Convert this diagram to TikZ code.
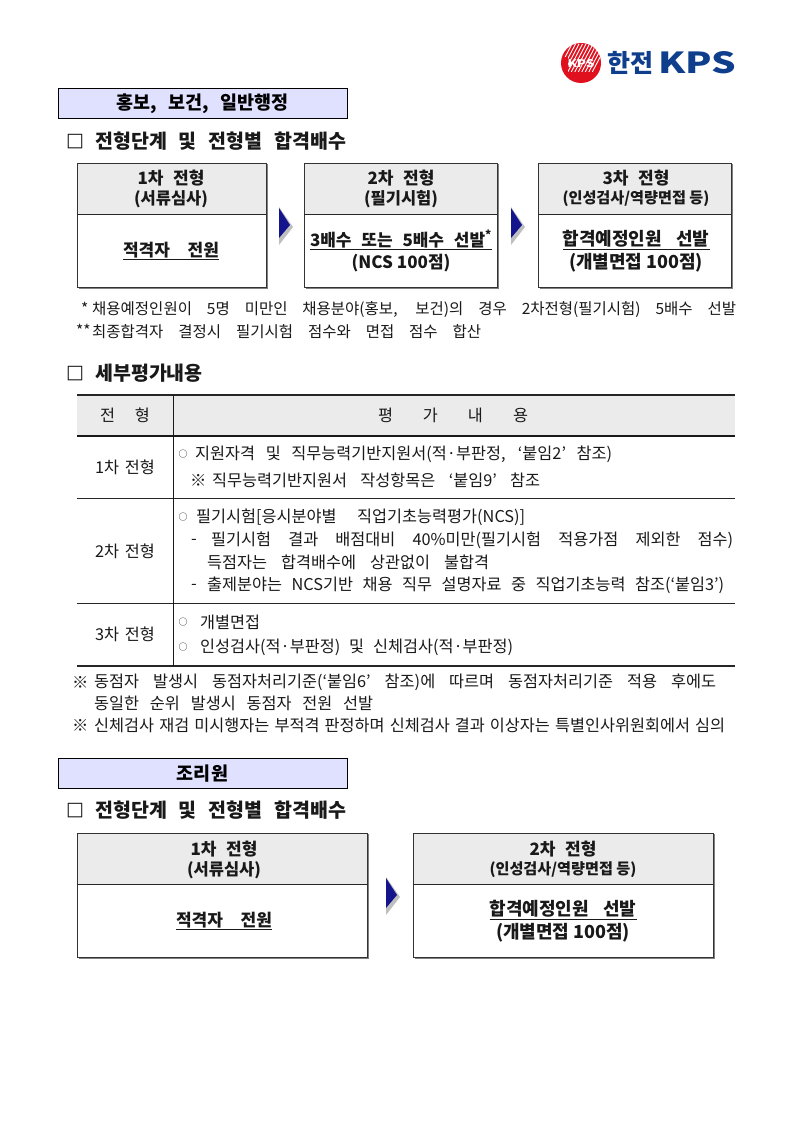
\documentclass[tikz,border=0pt]{standalone}
\usepackage{fontspec}
\usepackage{graphicx}
\setmainfont{Noto Sans CJK KR}
\newfontfamily\boxfont{DejaVu Sans}
\newcommand{\fx}[2]{\makebox[#1][s]{#2}}
\definecolor{logoblue}{HTML}{0F3F8C}
\definecolor{logored}{HTML}{E0101E}
\definecolor{navy}{HTML}{14148C}
\tikzset{x=1pt,y=-1pt,
 tx/.style={inner sep=0pt,anchor=west,font=\fontsize{16.3}{18}\selectfont,text=black!90},
 tn/.style={tx,font=\fontsize{15.5}{18}\selectfont},
 tm/.style={inner sep=0pt,anchor=center,font=\fontsize{9}{9}\selectfont,text=black!90},
 th/.style={inner sep=0pt,anchor=west,font=\fontsize{19.5}{22}\selectfont\bfseries,text=black!90},
 tq/.style={inner sep=0pt,anchor=west,font=\fontsize{19}{22}\selectfont\boxfont\bfseries,text=black!90},
 tc/.style={inner sep=0pt,anchor=center,font=\fontsize{17}{20}\selectfont\bfseries,text=black!90},
 tl/.style={tc,font=\fontsize{18}{20}\selectfont\bfseries},
 ts/.style={tc,font=\fontsize{16.5}{18}\selectfont\bfseries},
 tt/.style={inner sep=0pt,anchor=center,font=\fontsize{16.3}{18}\selectfont,text=black!90},
 banner/.style={draw=black,line width=1pt,fill=blue!12!white,inner sep=0pt,minimum width=289pt,minimum height=30pt,font=\fontsize{18.5}{20}\selectfont\bfseries},
 arrowtip/.style={fill=navy,draw=none},
 arrowsh/.style={fill=black!25,draw=none}}
\newcommand{\stepbox}[6]{% name,x0,x1,y0,ysplit,y1
 \fill[black!50] (#2+2,#4+1) rectangle (#3+2,#6+2);
 \fill[black!8] (#2,#4) rectangle (#3,#5);
 \fill[white] (#2,#5) rectangle (#3,#6);
 \draw[line width=.8pt,black!80] (#2,#4) rectangle (#3,#6);
 \draw[line width=.8pt,black!85] (#2,#5) -- (#3,#5);
 \coordinate (#1) at (#2,#4);
}
\newcommand{\arrowmark}[3]{% name,x,y
 \fill[arrowsh] (#2,#3-19) -- (#2+14,#3+1) -- (#2,#3+19) -- cycle;
 \fill[arrowtip] (#2,#3-18) -- (#2+11,#3-1) -- (#2,#3+12) -- cycle;
 \coordinate (#1) at (#2,#3);
}
\begin{document}
\begin{tikzpicture}
\useasboundingbox (0,0) rectangle (793,1121);
\fill[white] (0,0) rectangle (793,1121);
% logo
\fill[logored] (581,63) circle (20);
\begin{scope}
\clip (561,42) rectangle (603,57) (568,57) rectangle (603,72);
\clip (581,63) circle (20);
\foreach \i in {0,3.5,...,35}{\draw[white,line width=.9pt] (552+\i,82) -- (572+\i,44);}
\end{scope}
\node[inner sep=0pt,font=\fontsize{9}{9}\selectfont\bfseries,text=white] (lk) at (581,64) {\resizebox{27pt}{8pt}{KPS}};
\node[inner sep=0pt,anchor=west,font=\fontsize{25}{25}\selectfont\bfseries,text=logoblue] (lg) at (607,63) {한전};
\node[inner sep=0pt,anchor=west,font=\fontsize{25}{25}\selectfont\bfseries,text=logoblue] (lh) at (658,63) {\resizebox{78pt}{22pt}{KPS}};
% banners
\node[banner] (b1) at (202.5,104) {\fx{172pt}{홍보, 보건, 일반행정}};
\node[banner] (b2) at (202.5,773.5) {조리원};
\node[tq] (q1) at (66,142) {□};
\node[tq] (q2) at (66,374) {□};
\node[tq] (q3) at (66,811) {□};
\node[th] (h1) at (95,141) {\fx{251pt}{전형단계 및 전형별 합격배수}};
\node[th] (h2) at (95,373) {세부평가내용};
\node[th] (h3) at (95,810) {\fx{251pt}{전형단계 및 전형별 합격배수}};
% step boxes row 1
\stepbox{s1}{77}{266}{163}{214}{287}
\stepbox{s2}{304}{497}{163}{214}{287}
\stepbox{s3}{538}{731}{163}{214}{287}
\arrowmark{a1}{279}{226}
\arrowmark{a2}{511}{226}
\node[tc] (t11) at (171,178) {\fx{67pt}{1차 전형}};
\node[ts] (t12) at (171,199) {(서류심사)};
\node[tc] (t13) at (171,251) {\underline{\fx{96pt}{적격자 전원}}};
\node[tc] (t21) at (401,178) {\fx{67pt}{2차 전형}};
\node[ts] (t22) at (401,199) {(필기시험)};
\node[tc] (t23) at (401,240) {\underline{\fx{182pt}{3배수 또는 5배수 선발\textsuperscript{*}}}};
\node[tc] (t24) at (401,263) {\fx{99pt}{(NCS 100점)}};
\node[tc] (t31) at (636,178) {\fx{67pt}{3차 전형}};
\node[ts] (t32) at (636,199) {\resizebox{147pt}{!}{(인성검사/역량면접 등)}};
\node[tl] (t33) at (636,240) {\underline{\fx{147pt}{합격예정인원 선발}}};
\node[tl] (t34) at (636,263) {\fx{134pt}{(개별면접 100점)}};
% notes
\node[tn] (n0) at (81,308) {*};
\node[tn] (n1) at (92,310) {\fx{644pt}{채용예정인원이 5명 미만인 채용분야(홍보, 보건)의 경우 2차전형(필기시험) 5배수 선발}};
\node[tn] (n3) at (76,330) {**};
\node[tn] (n2) at (92,332) {\fx{389pt}{최종합격자 결정시 필기시험 점수와 면접 점수 합산}};
% table
\fill[black!8] (77,395) rectangle (735,436);
\draw[line width=1.6pt,black!85] (77,395) -- (735,395);
\draw[line width=2.4pt,black!90] (77,436) -- (735,436);
\draw[line width=.8pt,black!85] (77,498) -- (735,498);
\draw[line width=.8pt,black!85] (77,603) -- (735,603);
\draw[line width=1.3pt,black!85] (77,666) -- (735,666);
\draw[line width=.8pt,black!90] (173,395) -- (173,666);
\node[tt] (c0) at (125,415) {\fx{50pt}{전 형}};
\node[tt] (c1) at (453,415) {\fx{150pt}{평 가 내 용}};
\node[tt] (r1) at (125,467) {\fx{60pt}{1차 전형}};
\node[tt] (r2) at (125,551) {\fx{60pt}{2차 전형}};
\node[tt] (r3) at (125,634) {\fx{60pt}{3차 전형}};
\node[tm] (o1) at (183,454) {○};
\node[tx] (l1) at (195,454) {\fx{417pt}{지원자격 및 직무능력기반지원서(적·부판정, ‘붙임2’ 참조)}};
\node[tx] (k1) at (190,480) {※};
\node[tx] (l2) at (212,480) {\fx{328pt}{직무능력기반지원서 작성항목은 ‘붙임9’ 참조}};
\node[tm] (o2) at (183,517) {○};
\node[tx] (l3) at (196,517) {\fx{329pt}{필기시험[응시분야별 직업기초능력평가(NCS)]}};
\node[tx] (d1) at (191,542) {-};
\node[tx] (l4) at (211,540) {\fx{522pt}{필기시험 결과 배점대비 40\%미만(필기시험 적용가점 제외한 점수)}};
\node[tx] (l5) at (207,562) {\fx{282pt}{득점자는 합격배수에 상관없이 불합격}};
\node[tx] (d2) at (191,587) {-};
\node[tx] (l6) at (207,585) {\fx{517pt}{출제분야는 NCS기반 채용 직무 설명자료 중 직업기초능력 참조(‘붙임3’)}};
\node[tm] (o3) at (183,622) {○};
\node[tx] (l7) at (200,622) {개별면접};
\node[tm] (o4) at (183,647) {○};
\node[tx] (l8) at (200,647) {\fx{313pt}{인성검사(적·부판정) 및 신체검사(적·부판정)}};
% remarks
\node[tx] (k2) at (72,682) {※};
\node[tx] (m1) at (94,682) {\fx{622pt}{동점자 발생시 동점자처리기준(‘붙임6’ 참조)에 따르며 동점자처리기준 적용 후에도}};
\node[tx] (m2) at (94,703) {\fx{279pt}{동일한 순위 발생시 동점자 전원 선발}};
\node[tx] (k3) at (72,725) {※};
\node[tx] (m3) at (94,725) {\fx{631pt}{신체검사 재검 미시행자는 부적격 판정하며 신체검사 결과 이상자는 특별인사위원회에서 심의}};
% row 2
\stepbox{s4}{77}{367}{833}{884}{957}
\stepbox{s5}{413}{713}{833}{884}{957}
\arrowmark{a3}{386}{896}
\node[tc] (u11) at (224,849) {\fx{67pt}{1차 전형}};
\node[ts] (u12) at (224,870) {(서류심사)};
\node[tc] (u13) at (224,921) {\underline{\fx{96pt}{적격자 전원}}};
\node[tc] (u21) at (563,849) {\fx{67pt}{2차 전형}};
\node[ts] (u22) at (563,870) {\resizebox{147pt}{!}{(인성검사/역량면접 등)}};
\node[tl] (u23) at (563,910) {\underline{\fx{147pt}{합격예정인원 선발}}};
\node[tl] (u24) at (563,933) {\fx{134pt}{(개별면접 100점)}};
\end{tikzpicture}
\end{document}
